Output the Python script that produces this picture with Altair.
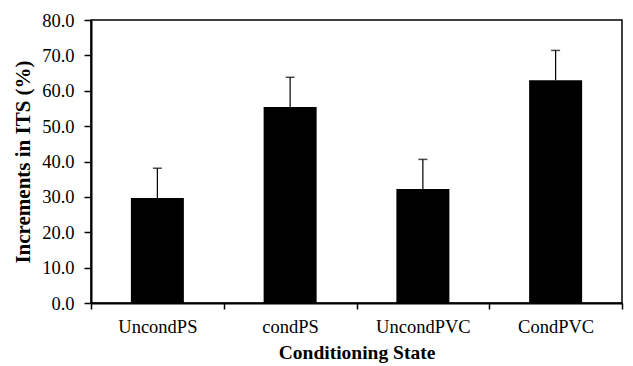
import altair as alt
import pandas as pd

categories = ["UncondPS", "condPS", "UncondPVC", "CondPVC"]
means = [29.7, 55.4, 32.2, 63.0]
upper = [38.1, 63.8, 40.6, 71.4]
y_ticks = [0, 10, 20, 30, 40, 50, 60, 70, 80]

df = pd.DataFrame({"cat": categories, "mean": means, "upper": upper})

FONT = "Liberation Serif"

x_axis = alt.Axis(
    title="Conditioning State",
    labelAngle=0,
    tickBand="extent",
    tickSize=6,
    labelPadding=8,
    titlePadding=8,
    titleFontSize=19.5,
    domainWidth=2,
    tickWidth=1.5,
)
y_axis = alt.Axis(
    title="Increments in ITS (%)",
    values=y_ticks,
    format=".1f",
    grid=False,
    labelOverlap=False,
    tickSize=7,
    labelPadding=10,
    titlePadding=8,
    titleFontSize=21,
    domainWidth=2,
    tickWidth=1.5,
)
x_scale = alt.Scale(paddingInner=0, paddingOuter=0)
y_scale = alt.Scale(domain=[0, 80], nice=False)

base = alt.Chart(df).encode(
    x=alt.X("cat:N", sort=categories, scale=x_scale, axis=x_axis),
)

bars = base.mark_bar(size=53, color="black").encode(
    y=alt.Y("mean:Q", scale=y_scale, axis=y_axis),
)

rules = base.mark_rule(color="black", strokeWidth=1.2).encode(
    y=alt.Y("mean:Q", scale=y_scale, axis=y_axis),
    y2="upper:Q",
)

caps = base.mark_tick(color="black", size=9, thickness=1.5, orient="horizontal").encode(
    y=alt.Y("upper:Q", scale=y_scale, axis=y_axis),
)

chart = (
    alt.layer(bars, rules, caps)
    .properties(
        width=531,
        height=283,
        autosize=alt.AutoSizeParams(type="none"),
        padding={"left": 83, "top": 12, "right": 3, "bottom": 63},
    )
    .configure_view(stroke="black", strokeWidth=1.5)
    .configure_axis(
        labelFont=FONT,
        titleFont=FONT,
        labelFontSize=18.5,
        titleFontWeight="bold",
        labelColor="black",
        titleColor="black",
        domainColor="black",
        tickColor="black",
    )
)

chart.save("out.html", embed_options={"renderer": "svg", "actions": False})
